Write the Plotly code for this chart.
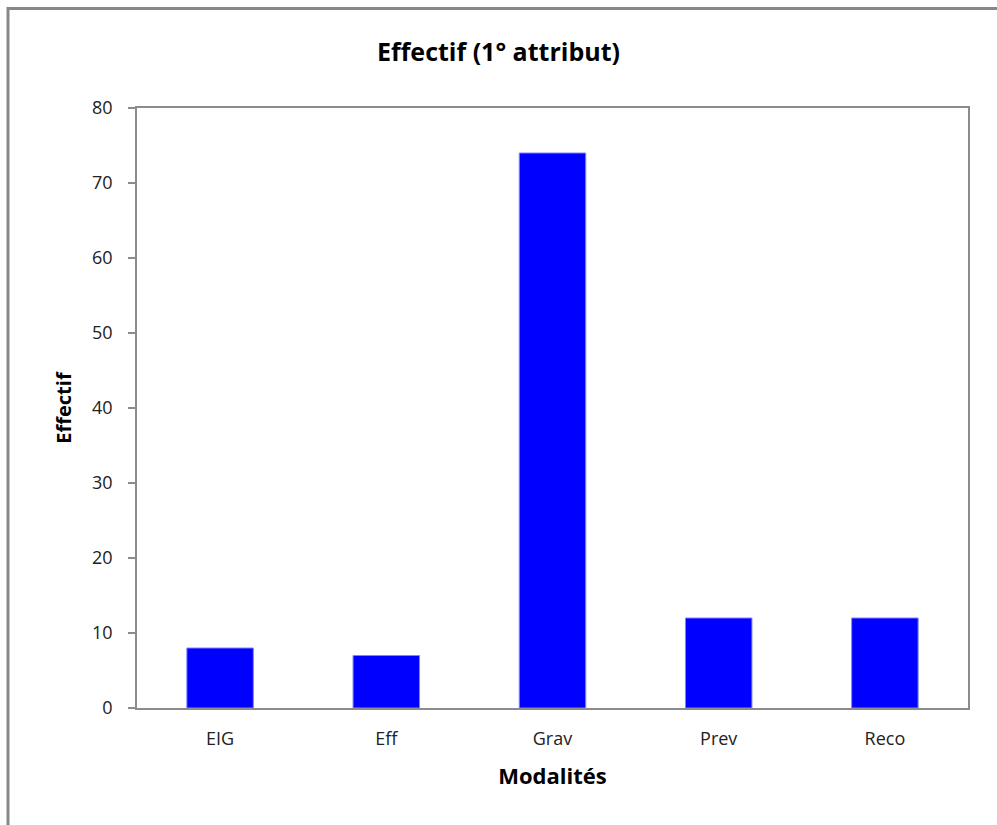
import plotly.graph_objects as go

categories = ["EIG", "Eff", "Grav", "Prev", "Reco"]
values = [8, 7, 74, 12, 12]
y_ticks = [0, 10, 20, 30, 40, 50, 60, 70, 80]

FONT = "Open Sans"
GRAY = "#8c8c8c"

fig = go.Figure(go.Bar(
    x=categories, y=values,
    marker=dict(color="#0000ff", line=dict(color="#8080ff", width=1)),
    width=0.4,
))

fig.update_layout(
    width=997, height=825,
    margin=dict(l=137, r=29, t=108, b=117),
    paper_bgcolor="white", plot_bgcolor="white",
    showlegend=False,
    title=dict(text="<b>Effectif (1° attribut)</b>", x=0.5, xanchor="center",
               y=1 - 52 / 825, yanchor="middle",
               font=dict(family=FONT, size=25, color="black")),
    font=dict(family=FONT, color="black"),
    shapes=[dict(type="rect", xref="paper", yref="paper",
                 x0=(8 - 137) / 831, x1=1.2, y0=-0.4, y1=1 + (108 - 8.5) / 600,
                 line=dict(color="#888888", width=3), layer="below")],
)

fig.update_xaxes(
    showline=True, linecolor=GRAY, linewidth=1.5, mirror=True,
    showgrid=False, ticks="", ticklabelstandoff=14,
    tickfont=dict(family=FONT, size=18, color="#222"),
    title=dict(text="<b>Modalités</b>", font=dict(family=FONT, size=22, color="black"), standoff=19),
)
fig.update_yaxes(
    range=[0, 80], tickvals=y_ticks,
    showline=True, linecolor=GRAY, linewidth=1.5, mirror=True,
    showgrid=False, ticks="outside", ticklen=7, tickcolor=GRAY, tickwidth=1.5,
    ticklabelstandoff=12,
    tickfont=dict(family=FONT, size=18, color="#222"),
    title=dict(text="<b>Effectif</b>", font=dict(family=FONT, size=20, color="black"), standoff=15),
    zeroline=False,
)

fig.write_html("out.html")
